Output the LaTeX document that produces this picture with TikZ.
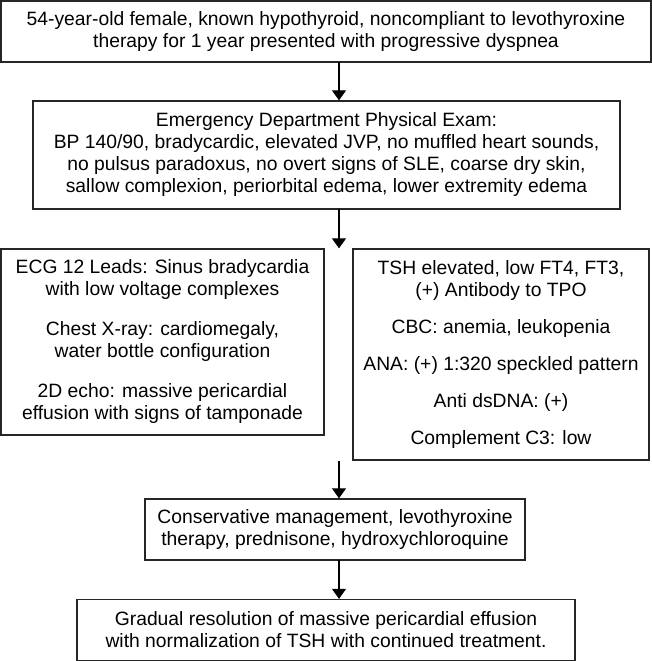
\documentclass[tikz,border=0pt]{standalone}
\usepackage{fontspec}
\setmainfont{Liberation Sans}
\usetikzlibrary{arrows.meta}
\begin{document}
\begin{tikzpicture}[x=1pt,y=-1pt,
  box/.style={draw=black!85, line width=1.3pt, inner sep=0pt, align=center,
    font=\fontsize{19.3}{22}\selectfont},
  conn/.style={line width=1.1pt, -{Triangle[width=14pt,length=10pt]}}]
\useasboundingbox (0,0) rectangle (652,661);
\node[box, minimum width=650pt, minimum height=61pt] (b1) at (326,31.5)
 {54-year-old female, known hypothyroid, noncompliant to levothyroxine\\
  therapy for 1 year presented with progressive dyspnea};
\node[box, minimum width=587pt, minimum height=108pt] (b2) at (326.5,155)
 {Emergency Department Physical Exam:\\
  BP 140/90, bradycardic, elevated JVP, no muffled heart sounds,\\
  no pulsus paradoxus, no overt signs of SLE, coarse dry skin,\\
  sallow complexion, periorbital edema, lower extremity edema};
\node[box, minimum width=323pt, minimum height=186pt] (b3l) at (162.5,342)
 {ECG 12 Leads: Sinus bradycardia\\
  with low voltage complexes\\[18pt]
  Chest X-ray: cardiomegaly,\\
  water bottle configuration\\[18pt]
  2D echo: massive pericardial\\
  effusion with signs of tamponade};
\node[box, minimum width=296pt, minimum height=211pt] (b3r) at (501,354.5)
 {TSH elevated, low FT4, FT3,\\
  (+) Antibody to TPO\\[15pt]
  CBC: anemia, leukopenia\\[15pt]
  ANA: (+) 1:320 speckled pattern\\[15pt]
  Anti dsDNA: (+)\\[15pt]
  Complement C3: low};
\node[box, minimum width=380pt, minimum height=61pt] (b4) at (335,529.5)
 {Conservative management, levothyroxine\\
  therapy, prednisone, hydroxychloroquine};
\node[box, minimum width=498pt, minimum height=61pt] (b5) at (326,630)
 {Gradual resolution of massive pericardial effusion\\
  with normalization of TSH with continued treatment.};
\coordinate (c1) at (339,62);
\coordinate (c2) at (339,209);
\coordinate (c3) at (339,461);
\coordinate (c4) at (339,560);
\draw[conn] (c1) -- (c1 |- b2.north);
\draw[conn] (c2) -- (c2 |- b3l.north);
\draw[conn] (c3) -- (c3 |- b4.north);
\draw[conn] (c4) -- (c4 |- b5.north);
\end{tikzpicture}
\end{document}
